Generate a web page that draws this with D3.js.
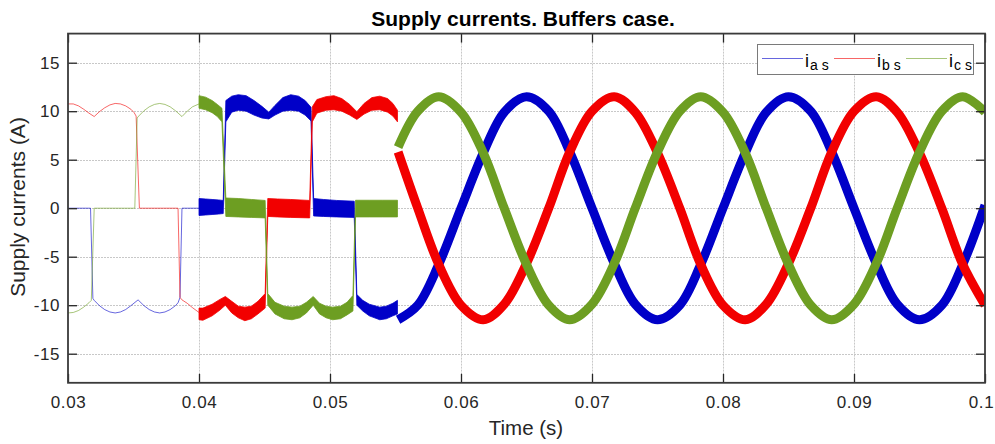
<!DOCTYPE html>
<html>
<head>
<meta charset="utf-8">
<script src="https://cdn.jsdelivr.net/npm/d3@7/dist/d3.min.js"></script>
<style>
html,body{margin:0;padding:0;background:#fff;}
svg{display:block;font-family:"Liberation Sans",Arial,Helvetica,sans-serif;}
</style>
</head>
<body>
<svg id="chart" width="995" height="444"></svg>
<script>
// ---------------- DATA ----------------
const titleText = "Supply currents. Buffers case.";
const xLabelText = "Time (s)";
const yLabelText = "Supply currents (A)";
const xTicks = [0.03, 0.04, 0.05, 0.06, 0.07, 0.08, 0.09, 0.1];
const xTickLabels = ["0.03", "0.04", "0.05", "0.06", "0.07", "0.08", "0.09", "0.1"];
const yTicks = [-15, -10, -5, 0, 5, 10, 15];
const yTickLabels = ["-15", "-10", "-5", "0", "5", "10", "15"];
const seriesNames = ["a s", "b s", "c s"];
const seriesColors = ["#0000c8", "#f20000", "#6d9e22"];

// Segment 1 (0.03 - 0.04 s): thin traces
const t1a = [0.0300, 0.03172, 0.0319, 0.0320, 0.0324, 0.0328, 0.0332, 0.0336, 0.0340, 0.0344, 0.0348, 0.03535, 0.0358, 0.0362, 0.0366, 0.0370, 0.0374, 0.0378, 0.0382, 0.0384, 0.03855, 0.0387, 0.0400];
const ia1 = [0, 0, -9.3, -9.5, -10.05, -10.45, -10.7, -10.8, -10.7, -10.45, -10.05, -9.45, -10.05, -10.45, -10.7, -10.8, -10.7, -10.45, -10.05, -9.75, -9.2, 0, 0];
const t1b = [0.0300, 0.0304, 0.0308, 0.0312, 0.0316, 0.0320, 0.0324, 0.0328, 0.0332, 0.0336, 0.0340, 0.0344, 0.0348, 0.03505, 0.0352, 0.03545, 0.0384, 0.03855, 0.0387, 0.0391, 0.0395, 0.0400];
const ib1 = [10.75, 10.75, 10.55, 10.2, 9.8, 9.45, 9.95, 10.35, 10.65, 10.8, 10.75, 10.55, 10.2, 9.85, 9.5, 0, 0, -9.2, -9.45, -9.8, -10.25, -10.75];
const t1c = [0.0300, 0.0304, 0.0308, 0.0312, 0.0316, 0.03178, 0.0320, 0.0351, 0.03528, 0.0354, 0.0358, 0.0362, 0.0366, 0.0370, 0.0374, 0.0378, 0.0382, 0.0387, 0.0391, 0.0395, 0.0400];
const ic1 = [-10.8, -10.75, -10.55, -10.2, -9.75, -9.5, 0, 0, 9.3, 9.5, 10.05, 10.45, 10.7, 10.8, 10.7, 10.45, 10.05, 9.45, 10.0, 10.45, 10.75];

// Segment 2 (0.04 - 0.0552 s): ripple bands (lower / upper envelope)
const t2a  = [0.0400, 0.0405, 0.0410, 0.0415, 0.04185, 0.04205, 0.0425, 0.0430, 0.0436, 0.0442, 0.0448, 0.04533, 0.0458, 0.0464, 0.0470, 0.0476, 0.0481, 0.04855, 0.04875, 0.0495, 0.0505, 0.05185, 0.05205, 0.0525, 0.0530, 0.0538, 0.0543, 0.0548, 0.05515];
const lo2a = [-0.75, -0.7, -0.65, -0.6, -0.55, 8.9, 9.9, 10.1, 10.0, 9.6, 9.3, 9.2, 9.6, 10.0, 10.1, 10.0, 9.6, 9.0, -0.8, -0.85, -0.9, -0.95, -10.0, -10.6, -11.1, -11.5, -11.4, -11.1, -10.9];
const hi2a = [1.0, 0.95, 0.9, 0.85, 0.8, 11.1, 11.55, 11.7, 11.6, 11.1, 10.5, 9.9, 10.6, 11.4, 11.7, 11.55, 11.1, 10.4, 1.0, 0.9, 0.8, 0.72, -8.9, -9.5, -9.9, -10.2, -10.1, -9.8, -9.5];
const t2b  = [0.0400, 0.0403, 0.0410, 0.0416, 0.04201, 0.0425, 0.0430, 0.0435, 0.0440, 0.0445, 0.04505, 0.04525, 0.0460, 0.0470, 0.04845, 0.04865, 0.0490, 0.0497, 0.0503, 0.0509, 0.0515, 0.05205, 0.0526, 0.0532, 0.0538, 0.0544, 0.0548, 0.05515];
const lo2b = [-11.5, -11.55, -11.1, -10.5, -10.0, -10.8, -11.3, -11.6, -11.4, -10.9, -10.3, -0.85, -0.9, -0.95, -1.0, 8.9, 9.8, 10.1, 10.15, 10.0, 9.6, 9.15, 9.7, 10.1, 10.15, 9.9, 9.5, 8.9];
const hi2b = [-10.3, -10.3, -9.9, -9.4, -9.1, -9.6, -10.1, -10.2, -10.1, -9.6, -8.8, 1.0, 0.95, 0.9, 0.8, 10.45, 11.2, 11.5, 11.6, 11.3, 10.7, 9.95, 10.8, 11.4, 11.55, 11.3, 10.8, 10.1];
const t2c  = [0.0400, 0.0405, 0.0410, 0.0414, 0.04175, 0.04205, 0.0430, 0.0440, 0.04505, 0.04525, 0.0458, 0.0465, 0.0471, 0.0477, 0.0482, 0.04872, 0.0492, 0.0497, 0.0502, 0.0508, 0.0513, 0.05175, 0.05195, 0.0530, 0.0540, 0.05515];
const lo2c = [10.3, 10.15, 9.85, 9.45, 8.9, -0.85, -0.9, -0.95, -1.0, -10.0, -10.9, -11.4, -11.5, -11.3, -10.8, -10.0, -10.9, -11.3, -11.5, -11.4, -11.0, -10.6, -0.9, -0.9, -0.9, -0.9];
const hi2c = [11.6, 11.45, 11.1, 10.7, 10.3, 1.05, 1.0, 0.9, 0.8, -8.8, -9.7, -10.1, -10.2, -10.1, -9.7, -9.1, -9.8, -10.1, -10.2, -10.1, -9.7, -9.0, 0.82, 0.82, 0.82, 0.82];

// Segment 3 (0.0552 - 0.1 s): sinusoidal currents
const t3  = [0.0552, 0.0567, 0.0583, 0.0600, 0.0617, 0.0633, 0.0650, 0.0667, 0.0683, 0.0700, 0.0717, 0.0733, 0.0750, 0.0767, 0.0783, 0.0800, 0.0817, 0.0833, 0.0850, 0.0867, 0.0883, 0.0900, 0.0917, 0.0933, 0.0950, 0.0967, 0.0983, 0.1000];
const ia3 = [-11.5, -10.0, -5.8, 0.0, 5.7, 9.9, 11.5, 10.0, 5.8, 0.0, -5.7, -9.9, -11.5, -10.0, -5.8, 0.0, 5.7, 9.9, 11.5, 10.0, 5.8, 0.0, -5.7, -9.9, -11.5, -10.0, -5.8, 0.3];
const ib3 = [5.8, 0.0, -5.8, -10.0, -11.5, -9.9, -5.7, 0.0, 5.8, 10.0, 11.5, 9.9, 5.7, 0.0, -5.8, -10.0, -11.5, -9.9, -5.7, 0.0, 5.8, 10.0, 11.5, 9.9, 5.7, 0.0, -5.8, -10.0];
const ic3 = [6.3, 10.0, 11.5, 9.9, 5.7, 0.0, -5.8, -10.0, -11.5, -9.9, -5.7, 0.0, 5.8, 10.0, 11.5, 9.9, 5.7, 0.0, -5.8, -10.0, -11.5, -9.9, -5.7, 0.0, 5.8, 10.0, 11.5, 9.9];

// ---------------- CHART ----------------
const svg = d3.select("#chart");
const x = d3.scaleLinear().domain([0.03, 0.1]).range([68, 985]);
const y = d3.scaleLinear().domain([-18, 18]).range([382.8, 33.6]);
const [x0, x1] = x.range();
const [yb, yt] = y.range();

svg.append("defs").append("clipPath").attr("id", "plotclip")
  .append("rect").attr("x", x0).attr("y", yt).attr("width", x1 - x0).attr("height", yb - yt);

// grid
const grid = svg.append("g").attr("stroke", "#c8c8c8").attr("stroke-width", 1).attr("stroke-dasharray", "2,1");
grid.selectAll("line.gx").data(xTicks.filter(d => d > 0.03 && d < 0.1)).join("line")
  .attr("x1", d => Math.round(x(d)) + 0.5).attr("x2", d => Math.round(x(d)) + 0.5)
  .attr("y1", yt).attr("y2", yb);
grid.selectAll("line.gy").data(yTicks).join("line")
  .attr("x1", x0).attr("x2", x1)
  .attr("y1", d => Math.round(y(d)) + 0.5).attr("y2", d => Math.round(y(d)) + 0.5);

const plot = svg.append("g").attr("clip-path", "url(#plotclip)");

const s1 = [[t1a, ia1], [t1b, ib1], [t1c, ic1]];
const s2 = [[t2a, lo2a, hi2a], [t2b, lo2b, hi2b], [t2c, lo2c, hi2c]];
const s3 = [ia3, ib3, ic3];

const line1 = d3.line().x(d => x(d[0])).y(d => y(d[1])).curve(d3.curveLinear);
const area2 = d3.area().x(d => x(d[0])).y0(d => y(d[1])).y1(d => y(d[2])).curve(d3.curveLinear);
const line3 = d3.line().x(d => x(d[0])).y(d => y(d[1])).curve(d3.curveCatmullRom.alpha(0.5));

s1.forEach((s, i) => {
  plot.append("path").datum(d3.zip(s[0], s[1])).attr("d", line1)
    .attr("fill", "none").attr("stroke", seriesColors[i]).attr("stroke-width", 1).attr("stroke-opacity", 0.6);
});
s2.forEach((s, i) => {
  plot.append("path").datum(d3.zip(s[0], s[1], s[2])).attr("d", area2)
    .attr("fill", seriesColors[i]).attr("stroke", seriesColors[i]).attr("stroke-width", 0.8);
});
s3.forEach((v, i) => {
  plot.append("path").datum(d3.zip(t3, v)).attr("d", line3)
    .attr("fill", "none").attr("stroke", seriesColors[i]).attr("stroke-width", 9)
    .attr("stroke-linejoin", "round").attr("stroke-linecap", "butt");
});

// axes (ticks inside, MATLAB style)
function styleAxis(g, showLabels) {
  g.select(".domain").remove();
  g.selectAll(".tick line").attr("stroke", "#262626").attr("stroke-width", 1.3);
  g.selectAll(".tick text").attr("fill", "#262626").attr("font-size", 17)
    .attr("font-family", "Liberation Sans, Arial, sans-serif").style("letter-spacing", "0.6px");
  if (!showLabels) g.selectAll(".tick text").remove();
}
svg.append("g").attr("transform", `translate(0,${yb})`)
  .call(d3.axisBottom(x).tickValues(xTicks).tickFormat((d, i) => xTickLabels[i]).tickSizeInner(-9).tickSizeOuter(0).tickPadding(13))
  .call(g => styleAxis(g, true))
  .call(g => g.selectAll(".tick text").filter((d, i) => i === xTicks.length - 1).attr("dx", -4));
svg.append("g").attr("transform", `translate(0,${yt})`)
  .call(d3.axisTop(x).tickValues(xTicks).tickSizeInner(-9).tickSizeOuter(0))
  .call(g => styleAxis(g, false));
svg.append("g").attr("transform", `translate(${x0},0)`)
  .call(d3.axisLeft(y).tickValues(yTicks).tickFormat((d, i) => yTickLabels[i]).tickSizeInner(-9).tickSizeOuter(0).tickPadding(8))
  .call(g => styleAxis(g, true));
svg.append("g").attr("transform", `translate(${x1},0)`)
  .call(d3.axisRight(y).tickValues(yTicks).tickSizeInner(-9).tickSizeOuter(0))
  .call(g => styleAxis(g, false));

// box
svg.append("rect").attr("x", x0).attr("y", yt).attr("width", x1 - x0).attr("height", yb - yt)
  .attr("fill", "none").attr("stroke", "#3a3a3a").attr("stroke-width", 1.8);

// labels
svg.append("text").attr("x", 523).attr("y", 26).attr("text-anchor", "middle")
  .attr("font-size", 21).attr("font-weight", "bold").attr("fill", "#000").text(titleText);
svg.append("text").attr("x", 526).attr("y", 435).attr("text-anchor", "middle")
  .attr("font-size", 20.5).attr("fill", "#262626").text(xLabelText);
svg.append("text").attr("transform", "translate(25,207) rotate(-90)").attr("text-anchor", "middle")
  .attr("font-size", 21).attr("fill", "#262626").text(yLabelText);

// legend
const lg = svg.append("g");
lg.append("rect").attr("x", 757.5).attr("y", 44.5).attr("width", 216).attr("height", 30)
  .attr("fill", "#fff").attr("stroke", "#7a7a7a").attr("stroke-width", 1);
const legX = [762, 834, 906];
seriesNames.forEach((n, i) => {
  lg.append("line").attr("x1", legX[i]).attr("x2", legX[i] + 41).attr("y1", 58.5).attr("y2", 58.5)
    .attr("stroke", seriesColors[i]).attr("stroke-width", 1).attr("stroke-opacity", 0.6);
  const t = lg.append("text").attr("x", legX[i] + 43).attr("y", 67).attr("fill", "#000").style("white-space", "pre");
  t.append("tspan").attr("font-size", 18).text("i");
  t.append("tspan").attr("font-size", 14).attr("dy", 3).attr("dx", 1).text(n);
});
</script>
</body>
</html>
